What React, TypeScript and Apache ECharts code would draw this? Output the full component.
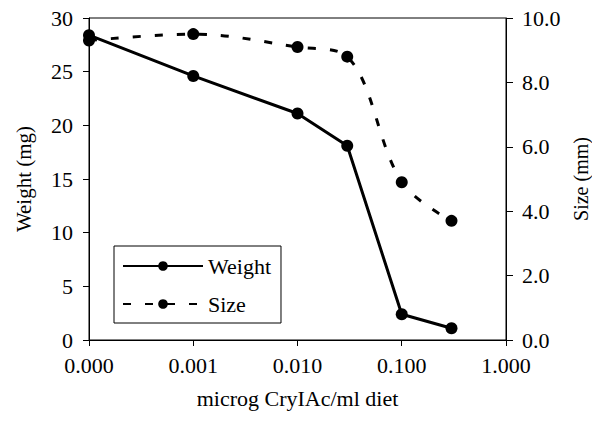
import React, { useEffect, useRef } from "react";
import * as echarts from "echarts";

const doses = [0.0001, 0.001, 0.01, 0.03, 0.1, 0.3];
const weight = [28.4, 24.6, 21.1, 18.1, 2.4, 1.1];
const size = [9.3, 9.5, 9.1, 8.8, 4.9, 3.7];

const FONT = "Liberation Serif";

export default function App() {
  const ref = useRef<HTMLDivElement>(null);
  useEffect(() => {
    if (!ref.current) return;
    const chart = echarts.init(ref.current, null, { renderer: "svg" });
    const axisLine = { show: true, lineStyle: { color: "#000", width: 1 } };
    const txt = (fontSize: number) => ({ fontFamily: FONT, fontSize, color: "#000" });
    chart.setOption({
      animation: false,
      backgroundColor: "#fff",
      textStyle: { fontFamily: FONT, color: "#000" },
      grid: {
        left: 89,
        right: 86,
        top: 18,
        bottom: 84,
        outerBoundsMode: "none",
        containLabel: false,
        show: true,
        borderColor: "#000",
        borderWidth: 1,
        backgroundColor: "transparent",
      },
      legend: {
        orient: "vertical",
        left: 114,
        top: 246,
        padding: [9, 10, 8, 8],
        itemGap: 16,
        itemWidth: 80,
        itemHeight: 12,
        borderColor: "#000",
        borderWidth: 1,
        textStyle: txt(22),
        data: ["Weight", "Size"],
      },
      xAxis: {
        type: "log",
        logBase: 10,
        min: 0.0001,
        max: 1,
        name: "microg CryIAc/ml diet",
        nameLocation: "middle",
        nameGap: 47,
        nameTextStyle: txt(22),
        axisLine,
        axisTick: { show: true, inside: false, length: 6, lineStyle: { color: "#000" } },
        axisLabel: { ...txt(22), margin: 14, formatter: (v: number) => v.toFixed(3) },
        splitLine: { show: false },
        minorTick: { show: false },
      },
      yAxis: [
        {
          type: "value",
          min: 0,
          max: 30,
          interval: 5,
          position: "left",
          name: "Weight (mg)",
          nameLocation: "middle",
          nameGap: 55,
          nameTextStyle: txt(21),
          axisLine,
          axisTick: { show: true, length: 6, lineStyle: { color: "#000" } },
          axisLabel: { ...txt(22), margin: 16 },
          splitLine: { show: false },
        },
        {
          type: "value",
          min: 0,
          max: 10,
          interval: 2,
          position: "right",
          name: "Size (mm)",
          nameLocation: "middle",
          nameGap: 52,
          nameTextStyle: txt(20),
          axisLine,
          axisTick: { show: true, length: 7, lineStyle: { color: "#000" } },
          axisLabel: { ...txt(22), margin: 16, formatter: (v: number) => v.toFixed(1) },
          splitLine: { show: false },
        },
      ],
      series: [
        {
          name: "Weight",
          type: "line",
          yAxisIndex: 0,
          data: doses.map((d, i) => [d, weight[i]]),
          symbol: "circle",
          symbolSize: 12,
          itemStyle: { color: "#000" },
          lineStyle: { color: "#000", width: 3, type: "solid" },
          z: 3,
        },
        {
          name: "Size",
          type: "line",
          yAxisIndex: 1,
          data: doses.map((d, i) => [d, size[i]]),
          symbol: "circle",
          symbolSize: 12,
          smooth: 0.35,
          itemStyle: { color: "#000" },
          lineStyle: { color: "#000", width: 3, type: [8, 14] },
          z: 2,
        },
      ],
    });
    return () => chart.dispose();
  }, []);
  return (
    <div
      ref={ref}
      style={{ position: "absolute", left: 0, top: 0, width: 592, height: 424, background: "#fff" }}
    />
  );
}
